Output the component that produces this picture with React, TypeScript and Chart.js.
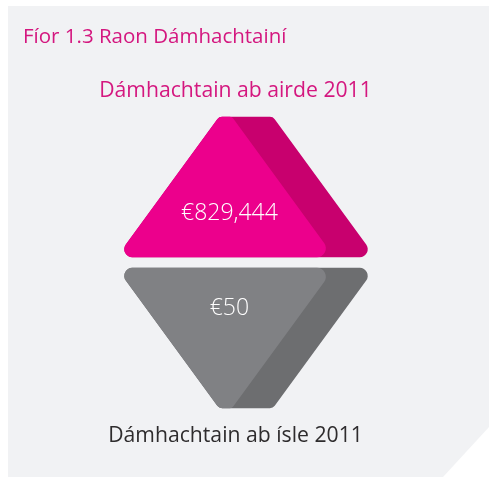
import React, { useEffect, useRef } from "react";
import { Chart, registerables } from "chart.js";

Chart.register(...registerables);

const titleText = "Fíor 1.3 Raon Dámhachtainí";
const categories = ["Dámhachtain ab airde 2011", "Dámhachtain ab ísle 2011"];
const awardValues = [829444, 50];
const currency = "€";

const W = 489;
const H = 477;
const FONT = "'Open Sans', 'Noto Sans', sans-serif";

const frontColors = ["#ec008c", "#808184"];
const sideColors = ["#c8006e", "#6d6e70"];
const labelColors = ["#d4177f", "#2e2c2d"];

function roundedPoly(ctx: CanvasRenderingContext2D, pts: number[][], radii: number[]) {
  const n = pts.length;
  ctx.beginPath();
  const mid = (a: number[], b: number[]) => [(a[0] + b[0]) / 2, (a[1] + b[1]) / 2];
  const start = mid(pts[n - 1], pts[0]);
  ctx.moveTo(start[0], start[1]);
  for (let i = 0; i < n; i++) {
    const p = pts[i];
    const q = pts[(i + 1) % n];
    ctx.arcTo(p[0], p[1], q[0], q[1], radii[i]);
  }
  ctx.closePath();
}

function drawPrism(
  ctx: CanvasRenderingContext2D,
  cx: number,
  cy: number,
  width: number,
  height: number,
  up: boolean,
  front: string,
  side: string
) {
  const L = cx - width / 2;
  const R = cx + width / 2;
  const topHalf = width * 0.104;
  const shift = width * 0.158;
  const s = up ? 1 : -1;
  const baseY = cy + (s * height) / 2;
  const tipY = cy - (s * height) / 2;
  const back = [
    [L, baseY],
    [R, baseY],
    [cx + topHalf, tipY],
    [cx - topHalf, tipY],
  ];
  const fr = [
    [L, baseY],
    [R - shift, baseY],
    [cx + topHalf - shift, tipY],
    [cx - topHalf, tipY],
  ];
  ctx.save();
  ctx.fillStyle = side;
  roundedPoly(ctx, back, [8, 8, 6, 6]);
  ctx.fill();
  ctx.fillStyle = front;
  roundedPoly(ctx, fr, [8, 9, 4, 6]);
  ctx.fill();
  ctx.restore();
}

const infographicPlugin = {
  id: "infographic",
  beforeDraw(chart: any) {
    const ctx = chart.ctx as CanvasRenderingContext2D;
    ctx.save();
    ctx.fillStyle = "#ffffff";
    ctx.fillRect(0, 0, W, H);
    ctx.fillStyle = "#f1f2f4";
    ctx.beginPath();
    ctx.moveTo(8, 6);
    ctx.lineTo(489, 6);
    ctx.lineTo(489, 427);
    ctx.lineTo(443, 477);
    ctx.lineTo(8, 477);
    ctx.closePath();
    ctx.fill();
    ctx.fillStyle = "#d4177f";
    ctx.font = `20.5px ${FONT}`;
    ctx.textAlign = "left";
    ctx.textBaseline = "alphabetic";
    ctx.fillText(titleText, 23, 43);
    ctx.restore();
  },
  afterDatasetsDraw(chart: any) {
    const ctx = chart.ctx as CanvasRenderingContext2D;
    const area = chart.chartArea;
    const meta = chart.getDatasetMeta(0);
    const yScale = chart.scales.y;
    const cx = (area.left + area.right) / 2;
    const width = area.right - area.left;
    const step = Math.abs(yScale.getPixelForValue(1) - yScale.getPixelForValue(0));
    const height = step * 0.93;
    meta.data.forEach((el: any, i: number) => {
      const cy = el.y;
      const up = i === 0;
      drawPrism(ctx, cx, cy, width, height, up, frontColors[i], sideColors[i]);
      const v = chart.data.datasets[0].data[i] as number;
      const txt = currency + v.toLocaleString("en-US");
      ctx.save();
      ctx.fillStyle = "#ffffff";
      ctx.font = `300 23px ${FONT}`;
      ctx.textAlign = "center";
      ctx.textBaseline = "middle";
      const ty = up ? cy + height * 0.185 : cy - height * 0.21;
      ctx.fillText(txt, cx - width * 0.064, ty);
      ctx.fillStyle = labelColors[i];
      ctx.font = `21.2px ${FONT}`;
      ctx.textBaseline = "alphabetic";
      const ly = up ? cy - height / 2 - 20 : cy + height / 2 + 34;
      ctx.fillText(chart.data.labels[i], cx - 10.5, ly);
      ctx.restore();
    });
  },
};

export default function App() {
  const ref = useRef<HTMLCanvasElement | null>(null);
  useEffect(() => {
    if (!ref.current) return;
    const chart = new Chart(ref.current, {
      type: "bar",
      data: {
        labels: categories,
        datasets: [
          {
            label: "Dámhachtain",
            data: awardValues,
            backgroundColor: "rgba(0,0,0,0)",
            borderWidth: 0,
          },
        ],
      },
      options: {
        indexAxis: "y",
        responsive: false,
        animation: false,
        devicePixelRatio: 1,
        events: [],
        layout: { padding: { left: 116.5, right: 113.5, top: 111.5, bottom: 63.5 } },
        scales: {
          x: { display: false, type: "linear", beginAtZero: true },
          y: { display: false, type: "category" },
        },
        plugins: {
          legend: { display: false },
          tooltip: { enabled: false },
          title: { display: false },
        },
      },
      plugins: [infographicPlugin],
    } as any);
    return () => chart.destroy();
  }, []);
  return (
    <div style={{ position: "absolute", left: 0, top: 0, width: W, height: H }}>
      <canvas ref={ref} width={W} height={H} style={{ display: "block" }} />
    </div>
  );
}
